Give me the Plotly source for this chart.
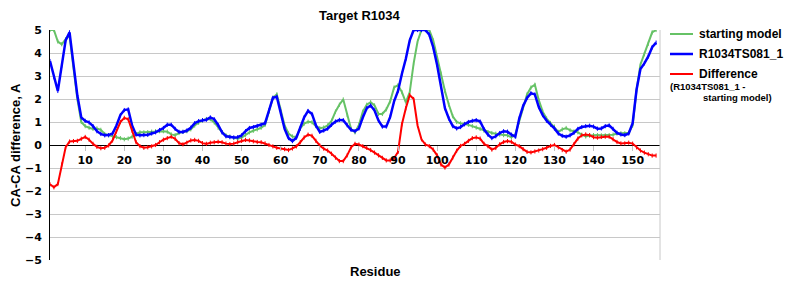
import plotly.graph_objects as go

residues = list(range(1, 157))

starting_model = [
    5.0, 5.0, 4.5, 4.38, 4.6, 4.75, 3.35, 2.0, 1.0, 0.82,
    0.75, 0.7, 0.72, 0.66, 0.48, 0.42, 0.38, 0.34, 0.3, 0.25,
    0.28, 0.36, 0.48, 0.55, 0.55, 0.56, 0.58, 0.6, 0.6, 0.6,
    0.58, 0.46, 0.43, 0.52, 0.57, 0.6, 0.68, 0.85, 0.97, 1.07,
    1.13, 1.12, 0.98, 0.75, 0.56, 0.42, 0.37, 0.3, 0.27, 0.32,
    0.45, 0.55, 0.62, 0.68, 0.75, 0.87, 1.45, 2.05, 2.2, 1.55,
    0.85, 0.5, 0.37, 0.35, 0.72, 0.93, 1.01, 0.99, 0.82, 0.73,
    0.76, 0.85, 1.05, 1.45, 1.75, 1.98, 1.3, 0.7, 0.55, 0.87,
    1.45, 1.75, 1.86, 1.72, 1.35, 1.35, 1.55, 1.9, 2.5, 2.6,
    2.3, 1.85, 2.3, 3.55, 4.5, 5.0, 5.0, 5.0, 4.55, 3.77,
    3.1, 2.35, 1.75, 1.25, 1.0, 0.94, 0.92, 0.88, 0.82, 0.76,
    0.7, 0.62, 0.56, 0.52, 0.49, 0.45, 0.43, 0.42, 0.33, 0.45,
    1.0, 1.6, 2.2, 2.5, 2.62, 1.95, 1.45, 1.15, 0.96, 0.8,
    0.57, 0.68, 0.74, 0.64, 0.59, 0.55, 0.45, 0.37, 0.41, 0.43,
    0.43, 0.42, 0.42, 0.43, 0.45, 0.5, 0.51, 0.51, 0.53, 0.85,
    2.4, 3.5, 3.95, 4.4, 4.9, 5.0,
]

model_081 = [
    3.65, 2.95, 2.35, 3.45, 4.55, 4.9, 3.5, 2.15, 1.2, 1.05,
    0.98, 0.82, 0.6, 0.48, 0.42, 0.43, 0.5, 0.85, 1.3, 1.52,
    1.55, 0.85, 0.45, 0.42, 0.43, 0.44, 0.5, 0.55, 0.65, 0.74,
    0.88, 0.88, 0.7, 0.57, 0.57, 0.63, 0.75, 0.95, 1.04, 1.08,
    1.1, 1.2, 1.12, 0.87, 0.55, 0.38, 0.34, 0.33, 0.34, 0.42,
    0.6, 0.74, 0.78, 0.83, 0.88, 0.95, 1.5, 2.05, 2.1, 1.45,
    0.7, 0.3, 0.17, 0.32, 0.72, 1.2, 1.48, 1.35, 0.85, 0.57,
    0.63, 0.71, 0.88, 1.02, 1.09, 1.08, 0.86, 0.66, 0.6, 0.72,
    1.2, 1.6, 1.72, 1.5, 1.07, 0.8, 0.8, 1.22, 1.9, 2.35,
    3.1, 3.75, 4.55, 5.0, 5.0, 5.0, 5.0, 4.8, 4.25, 3.48,
    2.55, 1.6, 1.15, 0.82, 0.72, 0.78, 0.9, 1.0, 1.05, 1.08,
    1.02, 0.68, 0.45, 0.3, 0.38, 0.52, 0.6, 0.58, 0.45, 0.36,
    1.15, 1.7, 2.05, 2.25, 2.2, 1.65, 1.3, 1.06, 0.89, 0.72,
    0.5, 0.4, 0.36, 0.42, 0.53, 0.7, 0.78, 0.82, 0.84, 0.8,
    0.71, 0.72, 0.82, 0.85, 0.7, 0.53, 0.46, 0.43, 0.5, 0.95,
    2.4, 3.3, 3.55, 3.85, 4.25, 4.45,
]

difference = [
    -1.71, -1.84, -1.7, -0.85, -0.1, 0.15, 0.17, 0.18, 0.27, 0.35,
    0.23, 0.05, -0.08, -0.14, -0.12, -0.02, 0.2, 0.6, 1.0, 1.18,
    1.12, 0.62, 0.12, -0.05, -0.12, -0.1, -0.06, 0.0, 0.12, 0.23,
    0.3, 0.36, 0.27, 0.08, 0.03, 0.1, 0.2, 0.22, 0.18, 0.08,
    0.05, 0.1, 0.12, 0.14, 0.12, 0.06, 0.04, 0.06, 0.12, 0.18,
    0.22, 0.2, 0.16, 0.13, 0.12, 0.07, 0.0, -0.06, -0.12, -0.16,
    -0.18, -0.22, -0.15, -0.06, 0.12, 0.33, 0.45, 0.4, 0.18, -0.02,
    -0.16, -0.24, -0.38, -0.55, -0.7, -0.7, -0.45, -0.1, 0.05, 0.02,
    -0.05, -0.12, -0.22, -0.33, -0.45, -0.56, -0.67, -0.67, -0.58, -0.3,
    0.9, 1.6, 2.17, 2.0, 0.85, 0.25, 0.02, -0.05, -0.2, -0.45,
    -0.85, -0.98, -0.85, -0.55, -0.25, -0.04, 0.05, 0.18, 0.3, 0.33,
    0.28, 0.05, -0.05, -0.2, -0.13, 0.03, 0.13, 0.17, 0.14, 0.02,
    -0.05, -0.18, -0.3, -0.32, -0.28, -0.24, -0.18, -0.12, -0.04, 0.0,
    -0.1, -0.22, -0.29, -0.2, 0.03, 0.28, 0.42, 0.46, 0.43, 0.34,
    0.32, 0.35, 0.36, 0.36, 0.25, 0.13, 0.07, 0.07, 0.1, 0.06,
    -0.1, -0.24, -0.33, -0.4, -0.46, -0.46,
]

x_ticks = [10, 20, 30, 40, 50, 60, 70, 80, 90, 100, 110, 120, 130, 140, 150]
y_ticks = [-5, -4, -3, -2, -1, 0, 1, 2, 3, 4, 5]

GREEN = "#66c266"
BLUE = "#0000ff"
RED = "#ff0000"

series = [
    ("starting model", starting_model, GREEN, 2),
    ("R1034TS081_1", model_081, BLUE, 2.5),
    ("Difference", difference, RED, 2),
]

fig = go.Figure()
for name, vals, color, w in series:
    fig.add_trace(go.Scatter(
        x=residues, y=vals, mode="lines+markers", name=name,
        line=dict(color=color, width=w),
        marker=dict(symbol="line-ns", size=3, line=dict(color=color, width=1)),
        showlegend=False, cliponaxis=True,
    ))

tickfont = dict(family="DejaVu Sans", size=11, color="black", weight="bold")
fig.update_layout(
    width=800, height=300,
    margin=dict(l=50, r=140, t=30, b=40),
    paper_bgcolor="white", plot_bgcolor="white",
    font=dict(family="Liberation Sans", color="black"),
    xaxis=dict(
        range=[1, 157], tickvals=x_ticks, ticktext=[str(t) for t in x_ticks],
        anchor="free", position=0.5, showgrid=False, zeroline=False,
        showline=False, ticks="outside", ticklen=5, tickcolor="#c0c0c0",
        tickfont=tickfont,
    ),
    yaxis=dict(
        range=[-5, 5], tickvals=y_ticks, showgrid=True, gridcolor="#c8c8c8",
        gridwidth=1, zeroline=True, zerolinecolor="black", zerolinewidth=1,
        showline=True, linecolor="black", linewidth=1, ticks="",
        ticklabelstandoff=5, tickfont=tickfont,
    ),
    showlegend=False,
)

# right border of plot area
fig.add_shape(type="line", xref="paper", yref="paper", x0=1, x1=1, y0=0, y1=1,
              line=dict(color="#c8c8c8", width=1))

bold = dict(family="Liberation Sans", color="black", weight="bold")
fig.add_annotation(text="Target R1034", xref="paper", yref="paper",
                   x=0.508, y=1.0, yshift=15, showarrow=False,
                   font=dict(size=13, **bold), xanchor="center", yanchor="middle")
fig.add_annotation(text="Residue", xref="paper", yref="paper",
                   x=0.534, y=0, yshift=-11, showarrow=False,
                   font=dict(size=13, **bold), xanchor="center", yanchor="middle")
fig.add_annotation(text="CA-CA difference, A", xref="paper", yref="paper",
                   x=0, xshift=-35, y=0.5, textangle=-90, showarrow=False,
                   font=dict(size=13, **bold), xanchor="center", yanchor="middle")

# legend (drawn manually to match layout)
legend_rows = [(name, color, w) for name, _, color, w in series]
row_y = [34, 54, 74]  # pixel rows
H0, PT = 30, 230
def py(p):
    return (H0 + PT - p) / PT
for (name, color, w), yy in zip(legend_rows, row_y):
    fig.add_shape(type="line", xref="paper", yref="paper",
                  x0=(670 - 50) / 610, x1=(693 - 50) / 610, y0=py(yy), y1=py(yy),
                  line=dict(color=color, width=w))
    fig.add_annotation(text=name, xref="paper", yref="paper",
                       x=(697 - 50) / 610, y=py(yy), showarrow=False,
                       xanchor="left", yanchor="middle",
                       font=dict(size=12, **bold))
fig.add_annotation(text="(R1034TS081_1 -", xref="paper", yref="paper",
                   x=(668 - 50) / 610, y=py(86), showarrow=False,
                   xanchor="left", yanchor="middle", font=dict(size=9.5, **bold))
fig.add_annotation(text="starting model)", xref="paper", yref="paper",
                   x=(701 - 50) / 610, y=py(97), showarrow=False,
                   xanchor="left", yanchor="middle", font=dict(size=9.5, **bold))

fig.write_html("out.html")
